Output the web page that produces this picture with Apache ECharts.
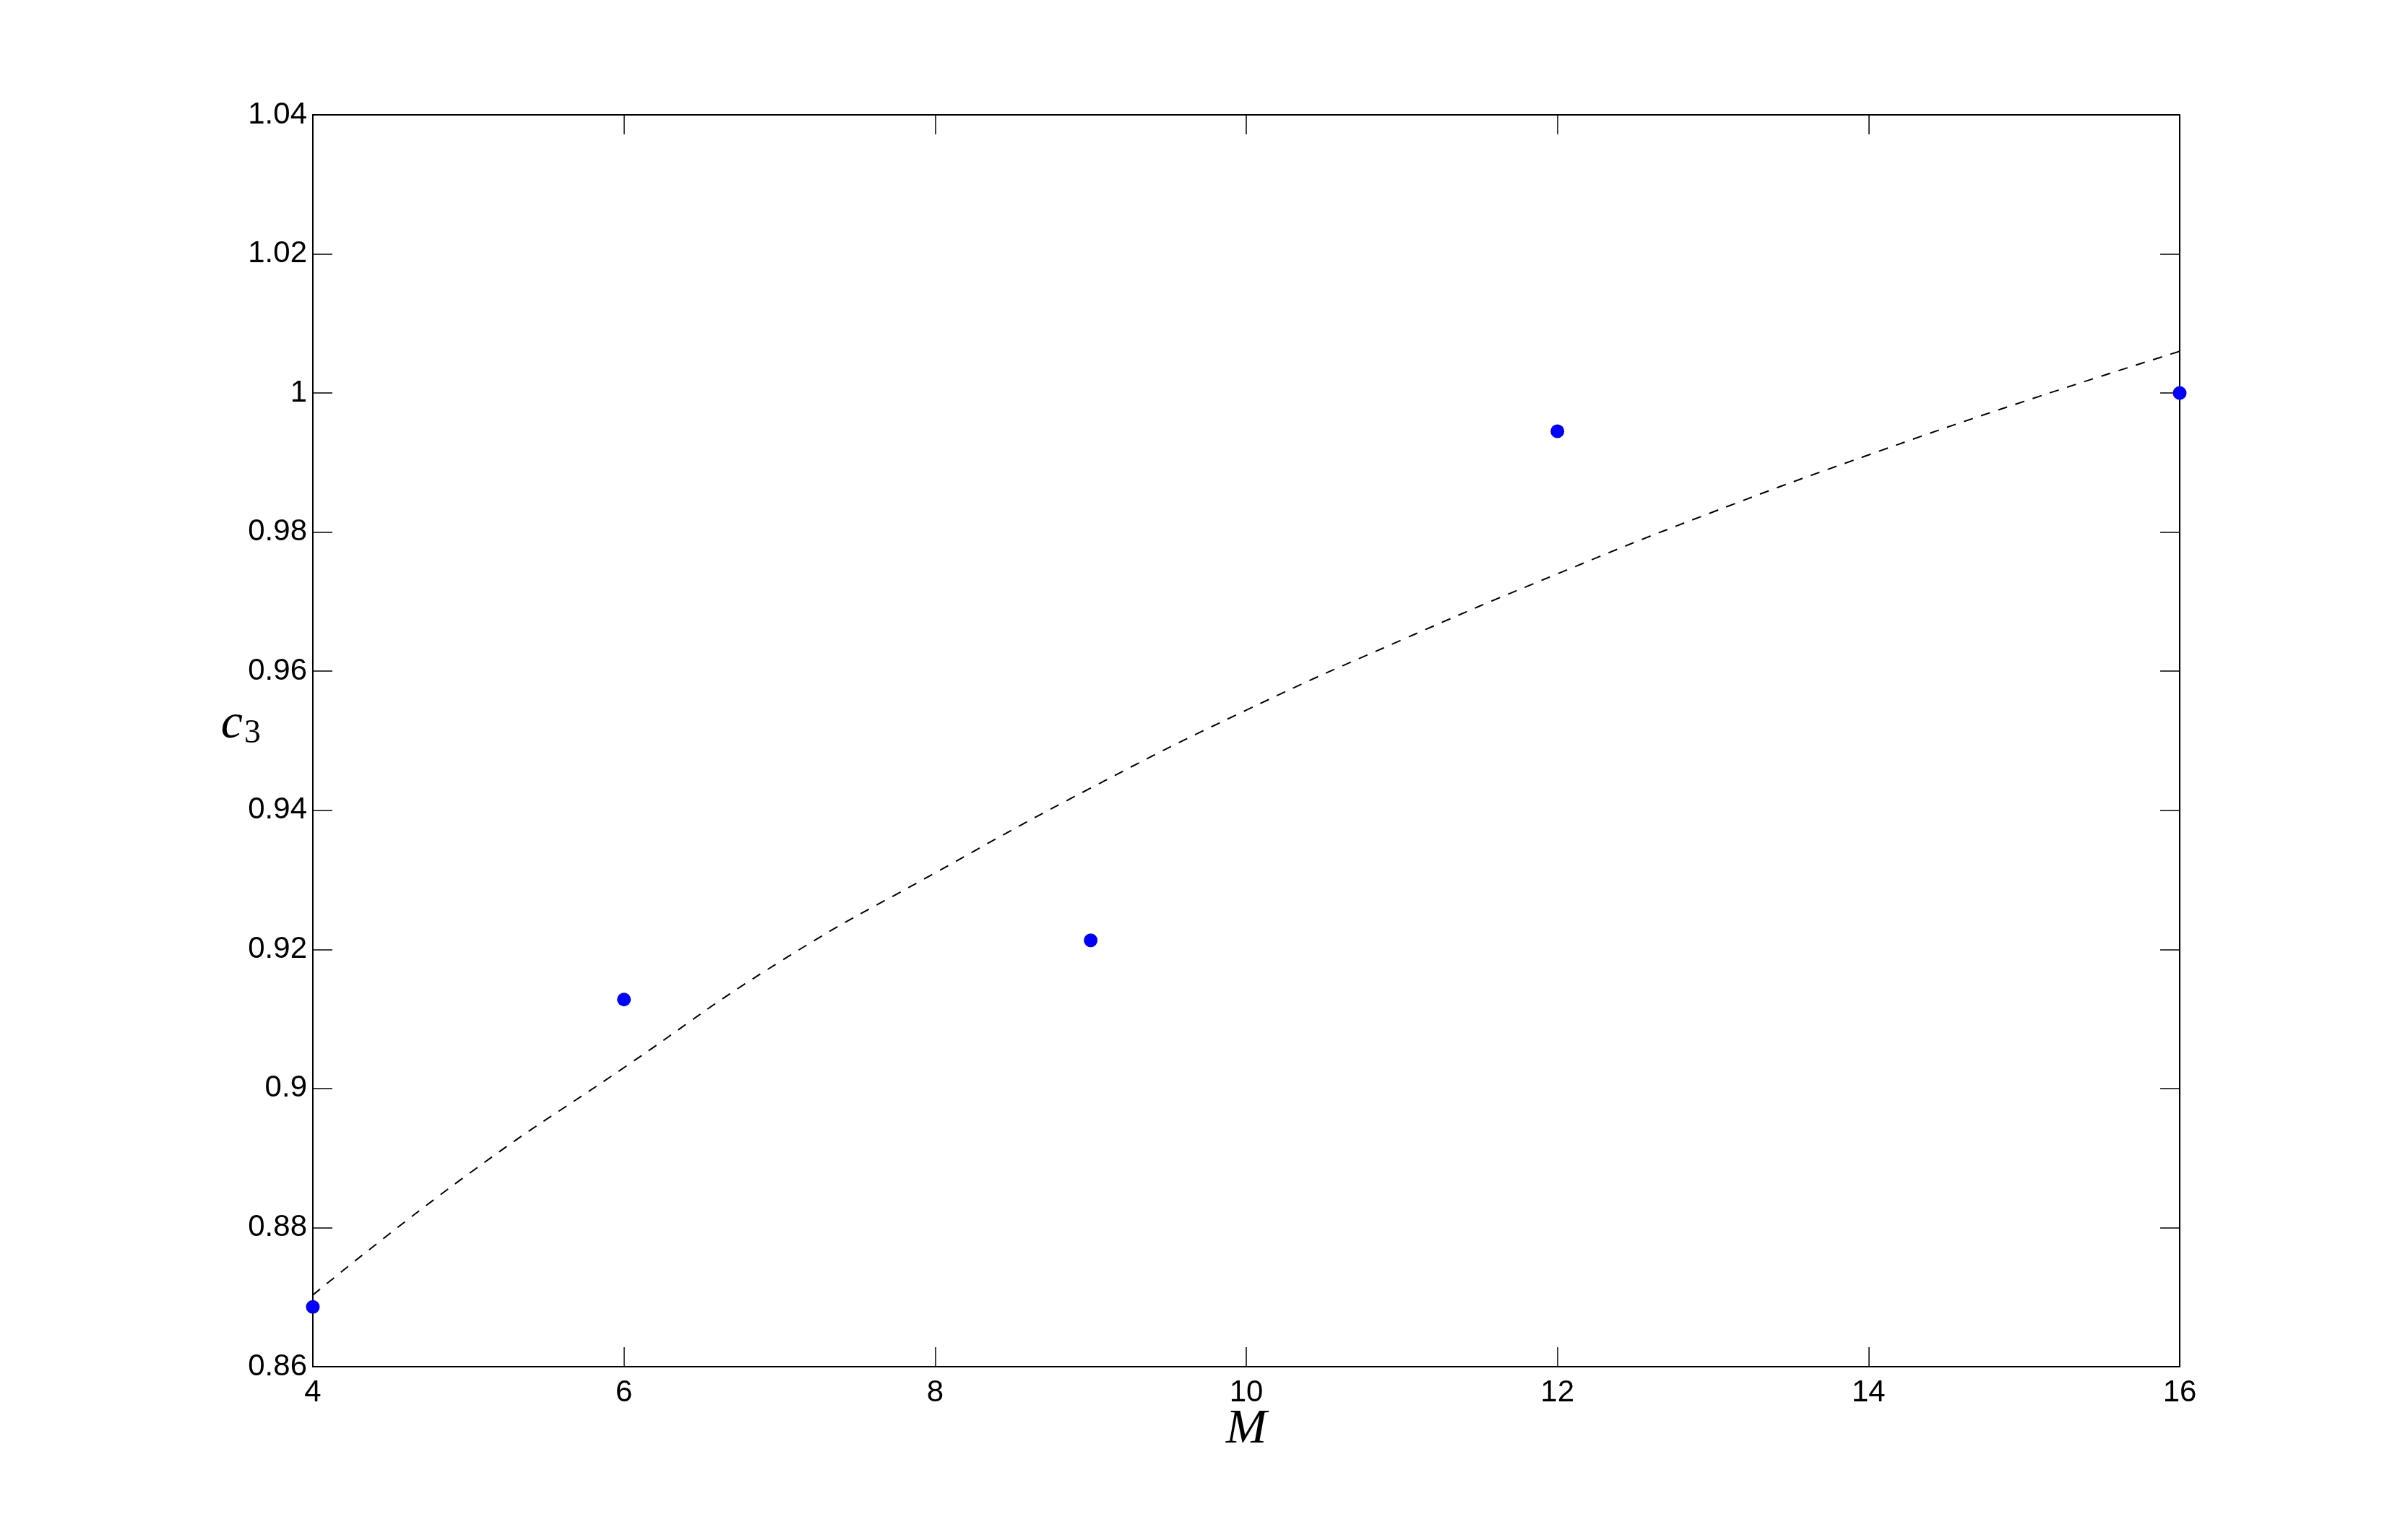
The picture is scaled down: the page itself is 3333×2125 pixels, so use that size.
<!DOCTYPE html>
<html>
<head>
<meta charset="utf-8">
<title>c3 vs M</title>
<script src="https://cdn.jsdelivr.net/npm/echarts@6/dist/echarts.min.js"></script>
<style>
  html, body { margin: 0; padding: 0; background: #fff; }
  #chart { width: 3333px; height: 2125px; }
</style>
</head>
<body>
<div id="chart"></div>
<script>
// measured points (blue dots)
var pointM = [4, 6, 9, 12, 16];
var pointC3 = [0.8686, 0.9128, 0.9213, 0.9945, 1.0000];

// dashed fit curve
var curveM = [4, 5, 6, 7, 8, 9, 10, 11, 12, 13, 14, 15, 16];
var curveC3 = [0.8703, 0.8877, 0.9030, 0.9182, 0.9310, 0.9432, 0.9544, 0.9645, 0.9740, 0.9829, 0.9911, 0.9988, 1.0060];

// axes
var xMin = 4, xMax = 16, xStep = 2;
var yMin = 0.86, yMax = 1.04, yStep = 0.02;

var chart = echarts.init(document.getElementById('chart'));

var labelFont = { fontFamily: 'Liberation Sans, Arial, sans-serif', fontSize: 42, color: '#000' };
var lineStyle = { color: '#000', width: 2 };
var tickStyle = { color: '#000', width: 1.5 };

function zip(a, b) {
    var out = [];
    for (var i = 0; i < a.length; i++) out.push([a[i], b[i]]);
    return out;
}

var option = {
    backgroundColor: '#fff',
    animation: false,
    grid: { left: 433, right: 316, top: 159, bottom: 233 },
    xAxis: [{
        type: 'value', min: xMin, max: xMax, interval: xStep,
        position: 'bottom',
        axisLine: { show: true, lineStyle: lineStyle },
        axisTick: { show: true, inside: true, length: 27, lineStyle: tickStyle },
        axisLabel: Object.assign({ margin: 15 }, labelFont),
        splitLine: { show: false },
        name: 'M',
        nameLocation: 'middle',
        nameGap: 53,
        nameMoveOverlap: false,
        nameTextStyle: { fontFamily: 'Liberation Serif, DejaVu Serif, serif', fontStyle: 'italic', fontSize: 68, color: '#000' }
    }, {
        type: 'value', min: xMin, max: xMax, interval: xStep,
        position: 'top',
        axisLine: { show: true, lineStyle: lineStyle },
        axisTick: { show: true, inside: true, length: 27, lineStyle: tickStyle },
        axisLabel: { show: false },
        splitLine: { show: false }
    }],
    yAxis: [{
        type: 'value', min: yMin, max: yMax, interval: yStep,
        position: 'left',
        axisLine: { show: true, lineStyle: lineStyle },
        axisTick: { show: true, inside: true, length: 27, lineStyle: tickStyle },
        axisLabel: Object.assign({ margin: 8 }, labelFont),
        splitLine: { show: false },
        name: '{c|c}{s|3}',
        nameLocation: 'middle',
        nameRotate: 0,
        nameGap: 72,
        nameMoveOverlap: false,
        nameTextStyle: {
            padding: [0, 0, 44, 0],
            rich: {
                c: { fontFamily: 'Liberation Serif, DejaVu Serif, serif', fontStyle: 'italic', fontSize: 68, color: '#000' },
                s: { fontFamily: 'Liberation Serif, DejaVu Serif, serif', fontSize: 46, color: '#000', padding: [24, 0, 0, 2] }
            }
        }
    }, {
        type: 'value', min: yMin, max: yMax, interval: yStep,
        position: 'right',
        axisLine: { show: true, lineStyle: lineStyle },
        axisTick: { show: true, inside: true, length: 27, lineStyle: tickStyle },
        axisLabel: { show: false },
        splitLine: { show: false }
    }],
    series: [{
        name: 'fit',
        type: 'line',
        xAxisIndex: 0, yAxisIndex: 0,
        data: zip(curveM, curveC3),
        smooth: true,
        showSymbol: false,
        lineStyle: { color: '#000', width: 2, type: [13, 12] },
        z: 2
    }, {
        name: 'c3',
        type: 'scatter',
        xAxisIndex: 0, yAxisIndex: 0,
        data: zip(pointM, pointC3),
        symbol: 'circle',
        symbolSize: 19,
        itemStyle: { color: '#0000ff', opacity: 1 },
        z: 3
    }]
};

chart.setOption(option);
</script>
</body>
</html>
